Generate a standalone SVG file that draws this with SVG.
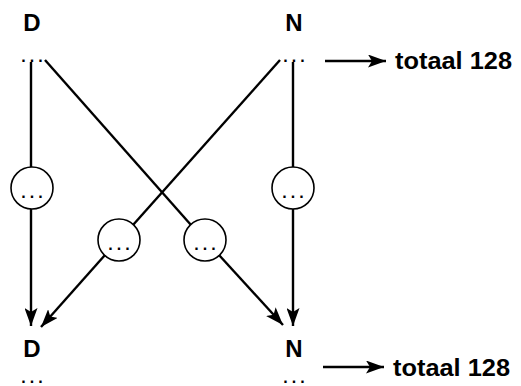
<svg xmlns="http://www.w3.org/2000/svg" width="521" height="386" viewBox="0 0 521 386">
<style>
.lbl{font-family:"Liberation Sans",Arial,sans-serif;font-weight:bold;font-size:24px;fill:#000}
.dots{font-family:"Liberation Sans",Arial,sans-serif;font-weight:bold;font-size:16px;fill:#000;letter-spacing:4px}
.tot{font-family:"Liberation Sans",Arial,sans-serif;font-weight:bold;font-size:24px;fill:#000}
.ln{stroke:#000;stroke-width:2.4;fill:none}
.nd{fill:#fff;stroke:#000;stroke-width:1.6}
</style>
<defs>
<marker id="ah" viewBox="0 0 18 13" refX="18" refY="6.5" markerWidth="18" markerHeight="13" markerUnits="userSpaceOnUse" orient="auto">
<path d="M0,0 L18,6.5 L0,13 L4,6.5 Z" fill="#000"/>
</marker>
</defs>
<rect width="521" height="386" fill="#fff"/>
<g id="connectors">
<line class="ln" x1="31" y1="62" x2="31" y2="167"/>
<line class="ln" x1="31" y1="209" x2="31" y2="326" marker-end="url(#ah)"/>
<line class="ln" x1="293" y1="62" x2="293" y2="167"/>
<line class="ln" x1="293" y1="209" x2="293" y2="326" marker-end="url(#ah)"/>
<line class="ln" x1="45" y1="60" x2="191" y2="225"/>
<line class="ln" x1="219" y1="255" x2="283" y2="325" marker-end="url(#ah)"/>
<line class="ln" x1="280" y1="60" x2="133" y2="225"/>
<line class="ln" x1="105" y1="255" x2="41" y2="327" marker-end="url(#ah)"/>
<line class="ln" x1="325" y1="61" x2="386" y2="61" marker-end="url(#ah)"/>
<line class="ln" x1="323" y1="367" x2="384" y2="367" marker-end="url(#ah)"/>
</g>
<g id="D-top"><text class="lbl" x="32" y="31" text-anchor="middle">D</text><text class="dots" x="34" y="62" text-anchor="middle">...</text></g>
<g id="N-top"><text class="lbl" x="294" y="31" text-anchor="middle">N</text><text class="dots" x="296" y="62" text-anchor="middle">...</text></g>
<g id="total-top"><text class="tot" x="395" y="69" textLength="117" lengthAdjust="spacingAndGlyphs">totaal 128</text></g>
<g id="c1"><circle class="nd" cx="32" cy="188" r="21"/><text class="dots" x="34" y="198" text-anchor="middle">...</text></g>
<g id="c2"><circle class="nd" cx="293" cy="188" r="21"/><text class="dots" x="295" y="198" text-anchor="middle">...</text></g>
<g id="c3"><circle class="nd" cx="119" cy="240" r="21"/><text class="dots" x="121" y="250" text-anchor="middle">...</text></g>
<g id="c4"><circle class="nd" cx="205" cy="240" r="21"/><text class="dots" x="207" y="250" text-anchor="middle">...</text></g>
<g id="D-bottom"><text class="lbl" x="32" y="357" text-anchor="middle">D</text><text class="dots" x="34" y="383" text-anchor="middle">...</text></g>
<g id="N-bottom"><text class="lbl" x="294" y="357" text-anchor="middle">N</text><text class="dots" x="296" y="383" text-anchor="middle">...</text></g>
<g id="total-bottom"><text class="tot" x="393" y="376" textLength="117" lengthAdjust="spacingAndGlyphs">totaal 128</text></g>
</svg>
